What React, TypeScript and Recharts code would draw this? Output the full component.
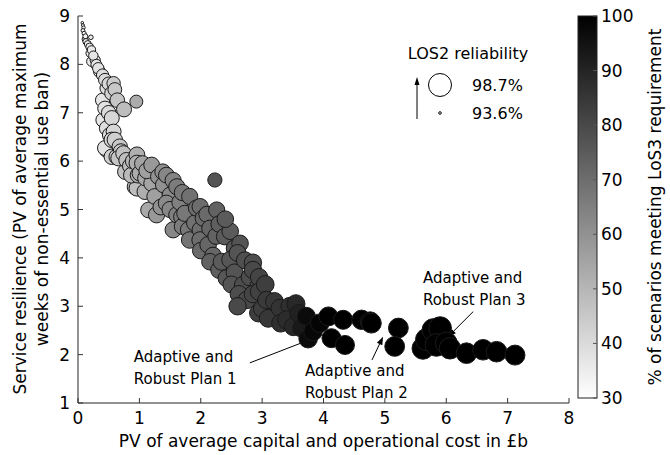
import React from "react";
import {
  ReferenceDot,
  ReferenceLine,
  Scatter,
  ScatterChart,
  XAxis,
  YAxis,
} from "recharts";

// [cost £b, resilience weeks, LOS2 reliability %, % scenarios meeting LoS3]
type Portfolio = [number, number, number, number];

const upperFront: Portfolio[] = [
  [0.07, 8.86, 93.6, 30], [0.08, 8.81, 93.7, 31], [0.09, 8.76, 93.8, 31],
  [0.08, 8.7, 93.9, 32], [0.1, 8.64, 94.0, 32], [0.12, 8.58, 94.2, 33],
  [0.21, 8.56, 94.1, 35], [0.11, 8.52, 94.3, 32], [0.13, 8.47, 94.5, 34],
  [0.16, 8.42, 94.7, 34], [0.19, 8.36, 94.9, 35], [0.22, 8.3, 95.0, 36],
  [0.2, 8.23, 95.1, 35], [0.25, 8.18, 95.3, 37], [0.28, 8.09, 95.5, 36],
  [0.22, 8.06, 95.4, 35], [0.3, 7.99, 95.7, 37], [0.33, 7.92, 95.8, 38],
  [0.35, 7.85, 95.9, 37], [0.4, 7.78, 96.0, 39], [0.44, 7.68, 96.2, 40],
  [0.58, 7.61, 96.3, 44], [0.5, 7.6, 96.3, 41], [0.47, 7.51, 96.4, 39],
  [0.6, 7.48, 96.4, 45], [0.55, 7.4, 96.5, 43], [0.64, 7.26, 96.6, 46],
  [0.4, 7.26, 96.5, 37], [0.75, 7.07, 96.7, 48], [0.95, 7.23, 96.2, 53],
  [0.44, 7.09, 96.6, 38], [0.5, 7.0, 96.6, 40], [0.41, 6.85, 96.6, 37],
  [0.55, 6.89, 96.7, 41], [0.47, 6.68, 96.7, 39], [0.58, 6.61, 96.7, 41],
  [0.52, 6.54, 96.7, 40],
];

const midFrontUpper: Portfolio[] = [
  [0.6, 6.44, 96.8, 43], [0.55, 6.44, 96.8, 42], [0.68, 6.3, 96.8, 45],
  [0.44, 6.27, 96.7, 38], [0.47, 6.23, 96.7, 37], [0.74, 6.16, 96.8, 47],
  [0.63, 6.09, 96.8, 45], [0.55, 6.09, 96.8, 43], [0.66, 6.06, 96.8, 46],
  [0.79, 6.02, 96.8, 48], [0.96, 6.13, 96.9, 52], [0.9, 6.0, 96.9, 50],
  [0.96, 5.96, 96.9, 52], [1.05, 5.95, 96.9, 55], [1.2, 5.92, 96.9, 58],
  [0.77, 5.78, 96.8, 47], [0.87, 5.71, 96.9, 49], [0.98, 5.71, 96.9, 52],
  [1.01, 5.75, 96.9, 53], [1.31, 5.68, 96.9, 60], [1.44, 5.71, 96.9, 63],
  [1.38, 5.78, 96.9, 61], [1.12, 5.8, 96.9, 56], [0.93, 5.47, 96.9, 48],
  [0.96, 5.44, 96.9, 48], [1.09, 5.37, 96.9, 52], [1.2, 5.54, 96.9, 55],
  [1.39, 5.51, 96.9, 60], [1.61, 5.47, 97.0, 66], [1.55, 5.6, 97.0, 64],
  [1.25, 5.27, 96.9, 56], [1.82, 5.27, 97.0, 69], [2.23, 5.61, 96.5, 77],
  [1.7, 5.35, 97.0, 67], [1.5, 5.3, 96.9, 62], [1.1, 5.65, 96.9, 54],
  [0.85, 5.9, 96.8, 48], [0.7, 6.2, 96.8, 45],
];

const midFrontLower: Portfolio[] = [
  [1.44, 5.13, 97.0, 62], [1.15, 4.99, 96.9, 54], [1.28, 4.89, 97.0, 58],
  [1.61, 4.89, 97.0, 65], [1.69, 4.85, 97.0, 66], [1.93, 5.03, 97.0, 70],
  [1.99, 5.06, 97.0, 70], [2.04, 4.82, 97.0, 71], [1.74, 4.92, 97.0, 67],
  [2.26, 4.99, 97.0, 73], [1.55, 4.58, 97.0, 63], [1.8, 4.58, 97.0, 67],
  [1.99, 4.58, 97.0, 70], [2.15, 4.61, 97.1, 72], [1.82, 4.37, 97.1, 68],
  [2.12, 4.27, 97.1, 72], [1.99, 4.37, 97.1, 70], [2.39, 4.44, 97.1, 75],
  [2.64, 4.3, 97.1, 77], [2.3, 4.7, 97.1, 74], [2.48, 4.55, 97.1, 75],
  [1.35, 5.05, 96.9, 60], [1.5, 5.0, 97.0, 63], [1.66, 5.15, 97.0, 65],
  [2.1, 4.9, 97.0, 71], [1.9, 4.72, 97.0, 69], [1.7, 4.65, 97.0, 66],
  [2.25, 4.45, 97.1, 73], [2.4, 4.8, 97.1, 75], [2.55, 4.2, 97.1, 76],
  [2.0, 4.15, 97.1, 71], [2.2, 4.05, 97.1, 72],
];

const lowerFront: Portfolio[] = [
  [2.15, 3.92, 97.1, 73], [2.34, 3.92, 97.2, 75], [2.48, 3.96, 97.2, 76],
  [2.6, 4.1, 97.2, 77], [2.72, 3.95, 97.2, 78], [2.42, 3.58, 97.2, 76],
  [2.3, 3.75, 97.2, 74], [2.55, 3.7, 97.2, 77], [2.69, 3.44, 97.3, 79],
  [2.94, 3.41, 97.3, 81], [2.8, 3.6, 97.3, 79], [2.75, 3.13, 97.3, 80],
  [3.07, 3.13, 97.3, 84], [2.94, 2.86, 97.4, 83], [3.29, 2.96, 97.4, 86],
  [3.1, 2.75, 97.4, 85], [3.4, 2.72, 97.5, 88], [3.51, 2.58, 97.5, 89],
  [2.95, 3.3, 97.3, 82], [3.45, 3.0, 97.4, 87], [3.6, 2.85, 97.5, 91],
  [2.62, 3.25, 97.3, 79], [2.85, 3.25, 97.3, 81], [3.0, 2.95, 97.3, 83],
  [3.3, 2.65, 97.4, 87], [3.65, 2.55, 97.6, 93], [2.5, 3.45, 97.2, 77],
  [2.85, 3.75, 97.3, 80], [2.95, 3.6, 97.3, 81], [3.05, 3.45, 97.4, 83],
  [3.2, 3.1, 97.4, 85], [2.85, 3.9, 97.3, 79], [3.55, 3.05, 97.5, 89],
  [2.6, 3.0, 97.3, 80],
];

const tailFront: Portfolio[] = [
  [3.72, 2.79, 97.5, 97], [3.75, 2.33, 97.6, 97], [3.83, 2.48, 97.6, 98],
  [3.94, 2.65, 97.6, 99], [4.08, 2.79, 97.7, 100], [4.13, 2.34, 97.7, 100],
  [4.32, 2.72, 97.7, 100], [4.35, 2.2, 97.7, 100], [4.62, 2.72, 97.8, 100],
  [4.76, 2.68, 97.9, 100], [4.78, 2.65, 97.9, 100], [5.22, 2.55, 97.9, 100],
  [5.16, 2.17, 97.9, 100], [5.62, 2.13, 98.4, 100], [5.68, 2.31, 98.5, 100],
  [5.79, 2.51, 98.6, 100], [5.9, 2.55, 98.6, 100], [5.84, 2.2, 98.6, 100],
  [6.0, 2.24, 98.4, 100], [6.06, 2.13, 98.3, 100], [6.33, 2.03, 98.1, 100],
  [6.6, 2.1, 98.1, 100], [6.82, 2.06, 98.1, 100], [7.12, 1.99, 97.95, 100],
];

const xTicks = [0, 1, 2, 3, 4, 5, 6, 7, 8];
const yTicks = [1, 2, 3, 4, 5, 6, 7, 8, 9];
const colorTicks = [30, 40, 50, 60, 70, 80, 90, 100];
const reliabilityLegend = [98.7, 93.6];

const planNotes = [
  { label: "Robust Plan 1", textX: 0.91, textY: 1.95, from: [2.8, 1.83], to: [3.8, 2.32] },
  { label: "Robust Plan 2", textX: 3.7, textY: 1.66, from: [4.79, 1.89], to: [4.97, 2.37] },
  { label: "Robust Plan 3", textX: 5.62, textY: 3.58, from: [6.44, 2.89], to: [6.03, 2.37] },
];

const FONT = "DejaVu Sans, Verdana, sans-serif";
const W = 670;
const H = 455;
const PLOT = { left: 78, top: 16, right: 569, bottom: 403 };
const BAR = { x: 578, y: 16, w: 19, h: 382 };

// darker (higher LoS3) bubbles are drawn last so they sit on top
const points = [
  ...upperFront,
  ...midFrontUpper,
  ...midFrontLower,
  ...lowerFront,
  ...tailFront,
]
  .map(([cost, resilience, reliability, los3]) => ({ cost, resilience, reliability, los3 }))
  .sort((a, b) => a.los3 - b.los3);

const grey = (v: number) => {
  const c = Math.round(255 * (1 - (v - 30) / 70));
  return `rgb(${c},${c},${c})`;
};
const radius = (rel: number) => 1.3 + ((rel - 93.6) / (98.7 - 93.6)) * 10.2;

const GAP = 8;

const BottomTick = (p: any) => (
  <g>
    <line x1={p.x} x2={p.x} y1={p.y - GAP} y2={p.y - GAP - 5} stroke="#333" />
    <text x={p.x} y={p.y} dy={13} textAnchor="middle" fontSize={17} fontFamily={FONT} fill="#000">
      {p.payload.value}
    </text>
  </g>
);

const LeftTick = (p: any) => (
  <g>
    <line x1={p.x + GAP} x2={p.x + GAP + 5} y1={p.y} y2={p.y} stroke="#333" />
    <text x={p.x} y={p.y} dy={6} textAnchor="end" fontSize={17} fontFamily={FONT} fill="#000">
      {p.payload.value}
    </text>
  </g>
);

const TopTick = (p: any) => (
  <line x1={p.x} x2={p.x} y1={p.y} y2={p.y + 5} stroke="#333" />
);

const RightTick = (p: any) => (
  <line x1={p.x} x2={p.x - 5} y1={p.y} y2={p.y} stroke="#333" />
);

const Bubble = (p: any) => (
  <circle
    cx={p.cx}
    cy={p.cy}
    r={radius(p.payload.reliability)}
    fill={grey(p.payload.los3)}
    stroke="#1a1a1a"
    strokeWidth={1}
  />
);

const Arrow = (p: any) => {
  const { x1, y1, x2, y2 } = p;
  const a = Math.atan2(y2 - y1, x2 - x1);
  const len = 8;
  const w = 3;
  const bx = x2 - len * Math.cos(a);
  const by = y2 - len * Math.sin(a);
  const nx = -Math.sin(a) * w;
  const ny = Math.cos(a) * w;
  return (
    <g>
      <line x1={x1} y1={y1} x2={bx} y2={by} stroke="#000" strokeWidth={1} />
      <polygon points={`${x2},${y2} ${bx + nx},${by + ny} ${bx - nx},${by - ny}`} fill="#000" />
    </g>
  );
};

const noteText = (label: string) => (p: any) => (
  <text x={p.cx} y={p.cy} fontSize={15} fontFamily={FONT} fill="#000">
    <tspan x={p.cx} dy={5}>Adaptive and</tspan>
    <tspan x={p.cx} dy={22}>{label}</tspan>
  </text>
);

export default function App() {
  return (
    <div style={{ position: "absolute", left: 0, top: 0, width: W, height: H, background: "#fff" }}>
      <ScatterChart
        width={W}
        height={H}
        margin={{ top: PLOT.top, right: W - PLOT.right, bottom: 22, left: 18 }}
      >
        <XAxis
          dataKey="cost"
          type="number"
          domain={[0, 8]}
          ticks={xTicks}
          height={30}
          tickSize={0}
          tickMargin={GAP}
          tick={BottomTick}
          axisLine={{ stroke: "#222" }}
          tickLine={false}
        />
        <XAxis
          xAxisId="top"
          orientation="top"
          type="number"
          domain={[0, 8]}
          ticks={xTicks}
          height={0}
          tickSize={0}
          tickMargin={0}
          tick={TopTick}
          axisLine={{ stroke: "#222" }}
          tickLine={false}
        />
        <YAxis
          dataKey="resilience"
          type="number"
          domain={[1, 9]}
          ticks={yTicks}
          width={60}
          tickSize={0}
          tickMargin={GAP}
          tick={LeftTick}
          axisLine={{ stroke: "#222" }}
          tickLine={false}
        />
        <YAxis
          yAxisId="right"
          orientation="right"
          type="number"
          domain={[1, 9]}
          ticks={yTicks}
          width={0}
          tickSize={0}
          tickMargin={0}
          tick={RightTick}
          axisLine={{ stroke: "#222" }}
          tickLine={false}
        />
        <Scatter data={points} shape={Bubble} isAnimationActive={false} />
        {planNotes.map((n) => (
          <ReferenceLine
            key={n.label + "-arrow"}
            segment={[
              { x: n.from[0], y: n.from[1] },
              { x: n.to[0], y: n.to[1] },
            ]}
            shape={Arrow}
          />
        ))}
        {planNotes.map((n) => (
          <ReferenceDot key={n.label} x={n.textX} y={n.textY} shape={noteText(n.label)} />
        ))}
      </ScatterChart>

      <svg
        width={W}
        height={H}
        style={{ position: "absolute", left: 0, top: 0, pointerEvents: "none" }}
        fontFamily={FONT}
      >
        <defs>
          <linearGradient id="los3-bar" x1="0" y1="1" x2="0" y2="0">
            <stop offset="0%" stopColor={grey(30)} />
            <stop offset="100%" stopColor={grey(100)} />
          </linearGradient>
        </defs>

        {/* y axis title, two lines */}
        <text transform="translate(26,209) rotate(-90)" textAnchor="middle" fontSize={17}>
          Service resilience (PV of average maximum
        </text>
        <text transform="translate(48,209) rotate(-90)" textAnchor="middle" fontSize={17}>
          weeks of non-essential use ban)
        </text>

        {/* x axis title */}
        <text x={(PLOT.left + PLOT.right) / 2} y={447} textAnchor="middle" fontSize={17}>
          PV of average capital and operational cost in £b
        </text>

        {/* reliability size legend */}
        <text x={468} y={59} textAnchor="middle" fontSize={16}>
          LOS2 reliability
        </text>
        {reliabilityLegend.map((rel, i) => (
          <g key={rel}>
            <circle cx={440} cy={85 + i * 28} r={radius(rel)} fill="#fff" stroke="#000" />
            <text x={472} y={91 + i * 28} fontSize={16}>
              {rel.toFixed(1)}%
            </text>
          </g>
        ))}
        <line x1={417} y1={119} x2={417} y2={84} stroke="#000" />
        <polygon points="417,77 414.5,85 419.5,85" fill="#000" />

        {/* colour bar */}
        <rect x={BAR.x} y={BAR.y} width={BAR.w} height={BAR.h} fill="url(#los3-bar)" stroke="#222" />
        {colorTicks.map((t) => {
          const y = BAR.y + BAR.h * (1 - (t - 30) / 70);
          return (
            <g key={t}>
              <line x1={BAR.x + BAR.w} x2={BAR.x + BAR.w - 4} y1={y} y2={y} stroke="#555" />
              <text x={BAR.x + BAR.w + 4} y={y + 6} fontSize={17}>
                {t}
              </text>
            </g>
          );
        })}
        <text transform="translate(661,207) rotate(-90)" textAnchor="middle" fontSize={17}>
          % of scenarios meeting LoS3 requirement
        </text>
      </svg>
    </div>
  );
}
